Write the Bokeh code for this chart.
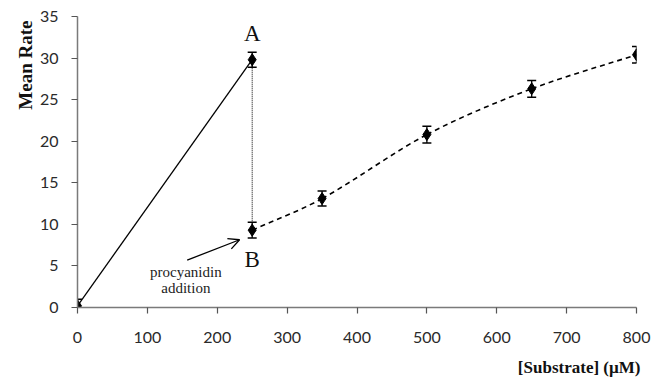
import numpy as np
from bokeh.plotting import figure
from bokeh.models import (ColumnDataSource, Whisker, TeeHead, Label, Arrow, OpenHead,
                          FixedTicker, Range1d, Title)
from bokeh.embed import file_html
from bokeh.resources import INLINE

# ---- data ----
pre_x = [0, 250]             # before procyanidin addition (A)
pre_y = [0.2, 29.8]
pre_err = [0.8, 0.9]

post_x = [250, 350, 500, 650, 800]   # after procyanidin addition (B onward)
post_y = [9.3, 13.1, 20.8, 26.3, 30.4]
post_err = [0.95, 0.9, 1.0, 1.0, 1.0]

x_ticks = [0, 100, 200, 300, 400, 500, 600, 700, 800]
y_ticks = [0, 5, 10, 15, 20, 25, 30, 35]

SERIF = "Liberation Serif"
SANS = "Lato"

p = figure(width=654, height=386, output_backend="svg", toolbar_location=None,
           x_range=Range1d(0, 800), y_range=Range1d(0, 35),
           min_border_left=77, min_border_right=18, min_border_top=16, min_border_bottom=78)
p.outline_line_color = None
p.xgrid.visible = False
p.ygrid.visible = False
p.background_fill_color = "white"

for ax in (p.xaxis[0], p.yaxis[0]):
    ax.axis_line_color = "#7a7a7a"
    ax.axis_line_width = 1.5
    ax.major_tick_line_color = "#555555"
    ax.major_tick_line_width = 1.2
    ax.major_tick_in = 0
    ax.major_tick_out = 6
    ax.minor_tick_line_color = None
    ax.major_label_text_font = SANS
    ax.major_label_text_font_size = "16px"
    ax.major_label_text_color = "#2a2a2a"
p.xaxis.ticker = FixedTicker(ticks=x_ticks)
p.yaxis.ticker = FixedTicker(ticks=y_ticks)
p.xaxis.major_label_standoff = 18
p.yaxis.major_label_standoff = 13

# solid line 0 -> A
p.line(pre_x, pre_y, line_color="black", line_width=1.3)

# dotted vertical A -> B
p.line([pre_x[1], post_x[0]], [pre_y[1], post_y[0]], line_color="black",
       line_width=1, line_dash="1 1")

# smoothed dashed curve through B..800 (cubic Hermite drawn as Bezier segments)
px = np.array(post_x, dtype=float)
py = np.array(post_y, dtype=float)
n = len(px)
m = np.zeros(n)
for i in range(n):
    if i == 0:
        m[i] = (py[1] - py[0]) / (px[1] - px[0])
    elif i == n - 1:
        m[i] = (py[-1] - py[-2]) / (px[-1] - px[-2])
    else:
        m[i] = (py[i + 1] - py[i - 1]) / (px[i + 1] - px[i - 1])
h = px[1:] - px[:-1]
p.bezier(x0=px[:-1], y0=py[:-1], x1=px[1:], y1=py[1:],
         cx0=px[:-1] + h / 3, cy0=py[:-1] + m[:-1] * h / 3,
         cx1=px[1:] - h / 3, cy1=py[1:] - m[1:] * h / 3,
         line_color="black", line_width=1.6, line_dash="5 4")

# error bars
all_x = pre_x + post_x
all_y = pre_y + post_y
all_e = pre_err + post_err
esrc = ColumnDataSource(dict(base=all_x,
                             upper=[v + e for v, e in zip(all_y, all_e)],
                             lower=[v - e for v, e in zip(all_y, all_e)]))
p.add_layout(Whisker(source=esrc, base="base", upper="upper", lower="lower",
                     line_color="black", line_width=1.3,
                     upper_head=TeeHead(size=9, line_color="black", line_width=1.5),
                     lower_head=TeeHead(size=9, line_color="black", line_width=1.5)))

# markers
p.scatter(all_x, all_y, marker="diamond", size=12, fill_color="black", line_color="black")

# labels A / B
p.add_layout(Label(x=pre_x[1], y=pre_y[1] + 1.6, text="A", text_font=SERIF,
                   text_font_size="23px", text_align="center", text_baseline="bottom",
                   text_color="#111111"))
p.add_layout(Label(x=post_x[0], y=post_y[0] - 2.0, text="B", text_font=SERIF,
                   text_font_size="23px", text_align="center", text_baseline="top",
                   text_color="#111111"))

# annotation text + arrow
p.add_layout(Label(x=155, y=4.3, text="procyanidin", text_font=SERIF,
                   text_font_size="15px", text_align="center", text_baseline="middle",
                   text_color="#222222"))
p.add_layout(Label(x=155, y=2.4, text="addition", text_font=SERIF,
                   text_font_size="15px", text_align="center", text_baseline="middle",
                   text_color="#222222"))
p.add_layout(Arrow(x_start=157, y_start=5.7, x_end=232, y_end=8.15,
                   line_color="black", line_width=1.3,
                   end=OpenHead(size=11, line_color="black", line_width=1.3)))

# axis titles
p.add_layout(Title(text="Mean Rate", text_font=SERIF, text_font_size="19px",
                   text_font_style="bold", align="right", text_color="#111111",
                   offset=4, standoff=2), "left")
p.add_layout(Title(text="[Substrate] (\u00b5M)", text_font=SERIF, text_font_size="17px",
                   text_font_style="bold", align="right", text_color="#111111",
                   offset=-4, standoff=20), "below")

open("out.html", "w").write(file_html(p, INLINE))
